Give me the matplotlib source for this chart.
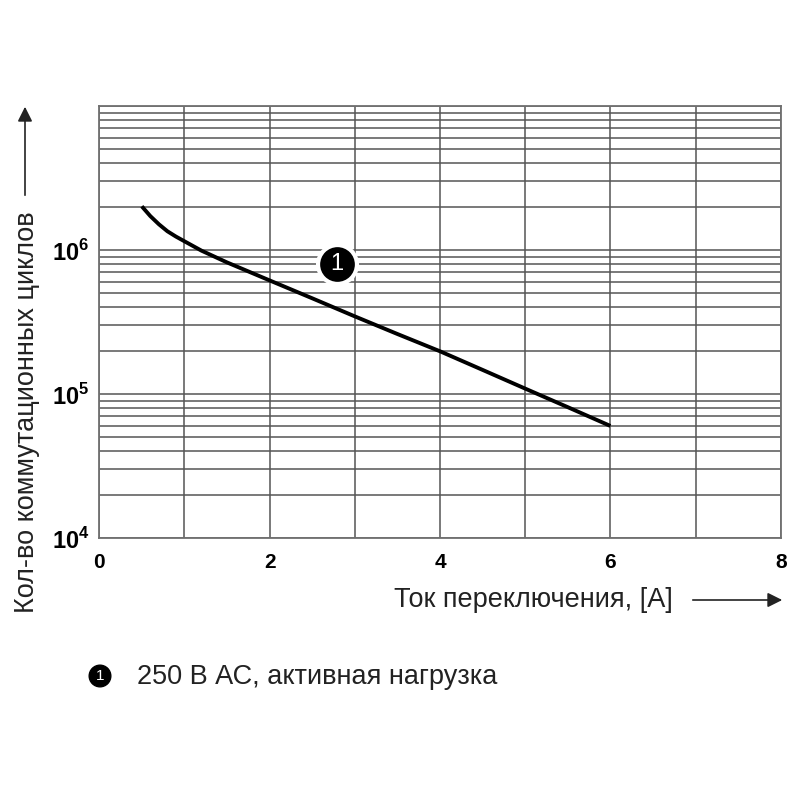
import numpy as np
import matplotlib
matplotlib.use("Agg")
import matplotlib.pyplot as plt
from matplotlib.ticker import FixedLocator, NullFormatter

plt.rcParams['font.family'] = ['Liberation Sans', 'DejaVu Sans']
plt.rcParams['mathtext.fontset'] = 'custom'
plt.rcParams['mathtext.rm'] = 'Liberation Sans:bold'
plt.rcParams['mathtext.bf'] = 'Liberation Sans:bold'

# Data
current_a = [0.5, 0.6, 0.7, 0.8, 0.9, 1.0, 1.2, 1.5, 2.0, 2.5, 3.0, 3.5, 4.0, 4.5, 5.0, 5.5, 6.0]
cycles = [2.01e6, 1.72e6, 1.51e6, 1.35e6, 1.24e6, 1.15e6, 9.9e5, 8.2e5, 6.15e5, 4.62e5,
          3.46e5, 2.61e5, 1.98e5, 1.47e5, 1.09e5, 8.1e4, 6.0e4]
x_ticks = [0, 2, 4, 6, 8]
y_ticks = [1e4, 1e5, 1e6]
y_tick_labels = [r'$10^{4}$', r'$10^{5}$', r'$10^{6}$']
marker_pos = (2.79, 8.0e5)
marker_label = '1'
x_label = 'Ток переключения, [A]'
y_label = 'Кол-во коммутационных циклов'
legend_text = '250 В АС, активная нагрузка'

fig = plt.figure(figsize=(8, 8), dpi=100)
ax = fig.add_axes([0.124, 0.3275, 0.852, 0.54])
ax.set_yscale('log')
ax.set_xlim(0, 8)
ax.set_ylim(1e4, 1e7)

grid_c = '#555555'
minor_y = [m * 10.0 ** e for e in range(4, 7) for m in range(1, 10)] + [1e7]
ax.yaxis.set_minor_locator(FixedLocator(minor_y))
ax.yaxis.set_minor_formatter(NullFormatter())
ax.set_xticks(x_ticks)
ax.xaxis.set_minor_locator(FixedLocator(np.arange(0, 9, 1)))
ax.set_yticks(y_ticks)
ax.set_yticklabels(y_tick_labels)
ax.grid(True, which='both', axis='both', color=grid_c, lw=1.1)
ax.tick_params(which='both', length=0)
ax.tick_params(axis='x', labelsize=15, pad=11)
ax.tick_params(axis='y', labelsize=17, pad=7)
for lab in ax.get_xticklabels():
    lab.set_fontweight('bold')
for s in ax.spines.values():
    s.set_color('#707070')
    s.set_linewidth(1.3)

ax.plot(current_a, cycles, color='black', lw=2.8, solid_capstyle='butt', zorder=3)
ax.plot([marker_pos[0]], [marker_pos[1]], 'o', ms=28, mfc='black', mec='white', mew=3, zorder=4)
ax.text(marker_pos[0], marker_pos[1], marker_label, color='white', fontsize=17,
        ha='center', va='center', zorder=5)

# x label with arrow
fig.text(394 / 800, 1 - 600 / 800, x_label, fontsize=19.5, ha='left', va='center', color='#222222')
fig.add_artist(matplotlib.patches.FancyArrowPatch((690 / 800, 1 - 600 / 800), (785 / 800, 1 - 600 / 800),
               transform=fig.transFigure, arrowstyle='-|>', mutation_scale=22, lw=1.2, color='#222222'))

# y label with arrow
fig.text(27 / 800, 1 - 412 / 800, y_label, fontsize=19.5, rotation=90, ha='center', va='center', color='#222222')
fig.add_artist(matplotlib.patches.FancyArrowPatch((25 / 800, 1 - 198 / 800), (25 / 800, 1 - 104 / 800),
               transform=fig.transFigure, arrowstyle='-|>', mutation_scale=22, lw=1.2, color='#222222'))

# legend
fig.text(100 / 800, 1 - 676 / 800, marker_label, fontsize=11, color='white', ha='center', va='center',
         bbox=dict(boxstyle='circle,pad=0.25', fc='black', ec='black'))
fig.text(137 / 800, 1 - 677 / 800, legend_text, fontsize=19.5, ha='left', va='center', color='#222222')

fig.savefig('out.png', dpi=100)
